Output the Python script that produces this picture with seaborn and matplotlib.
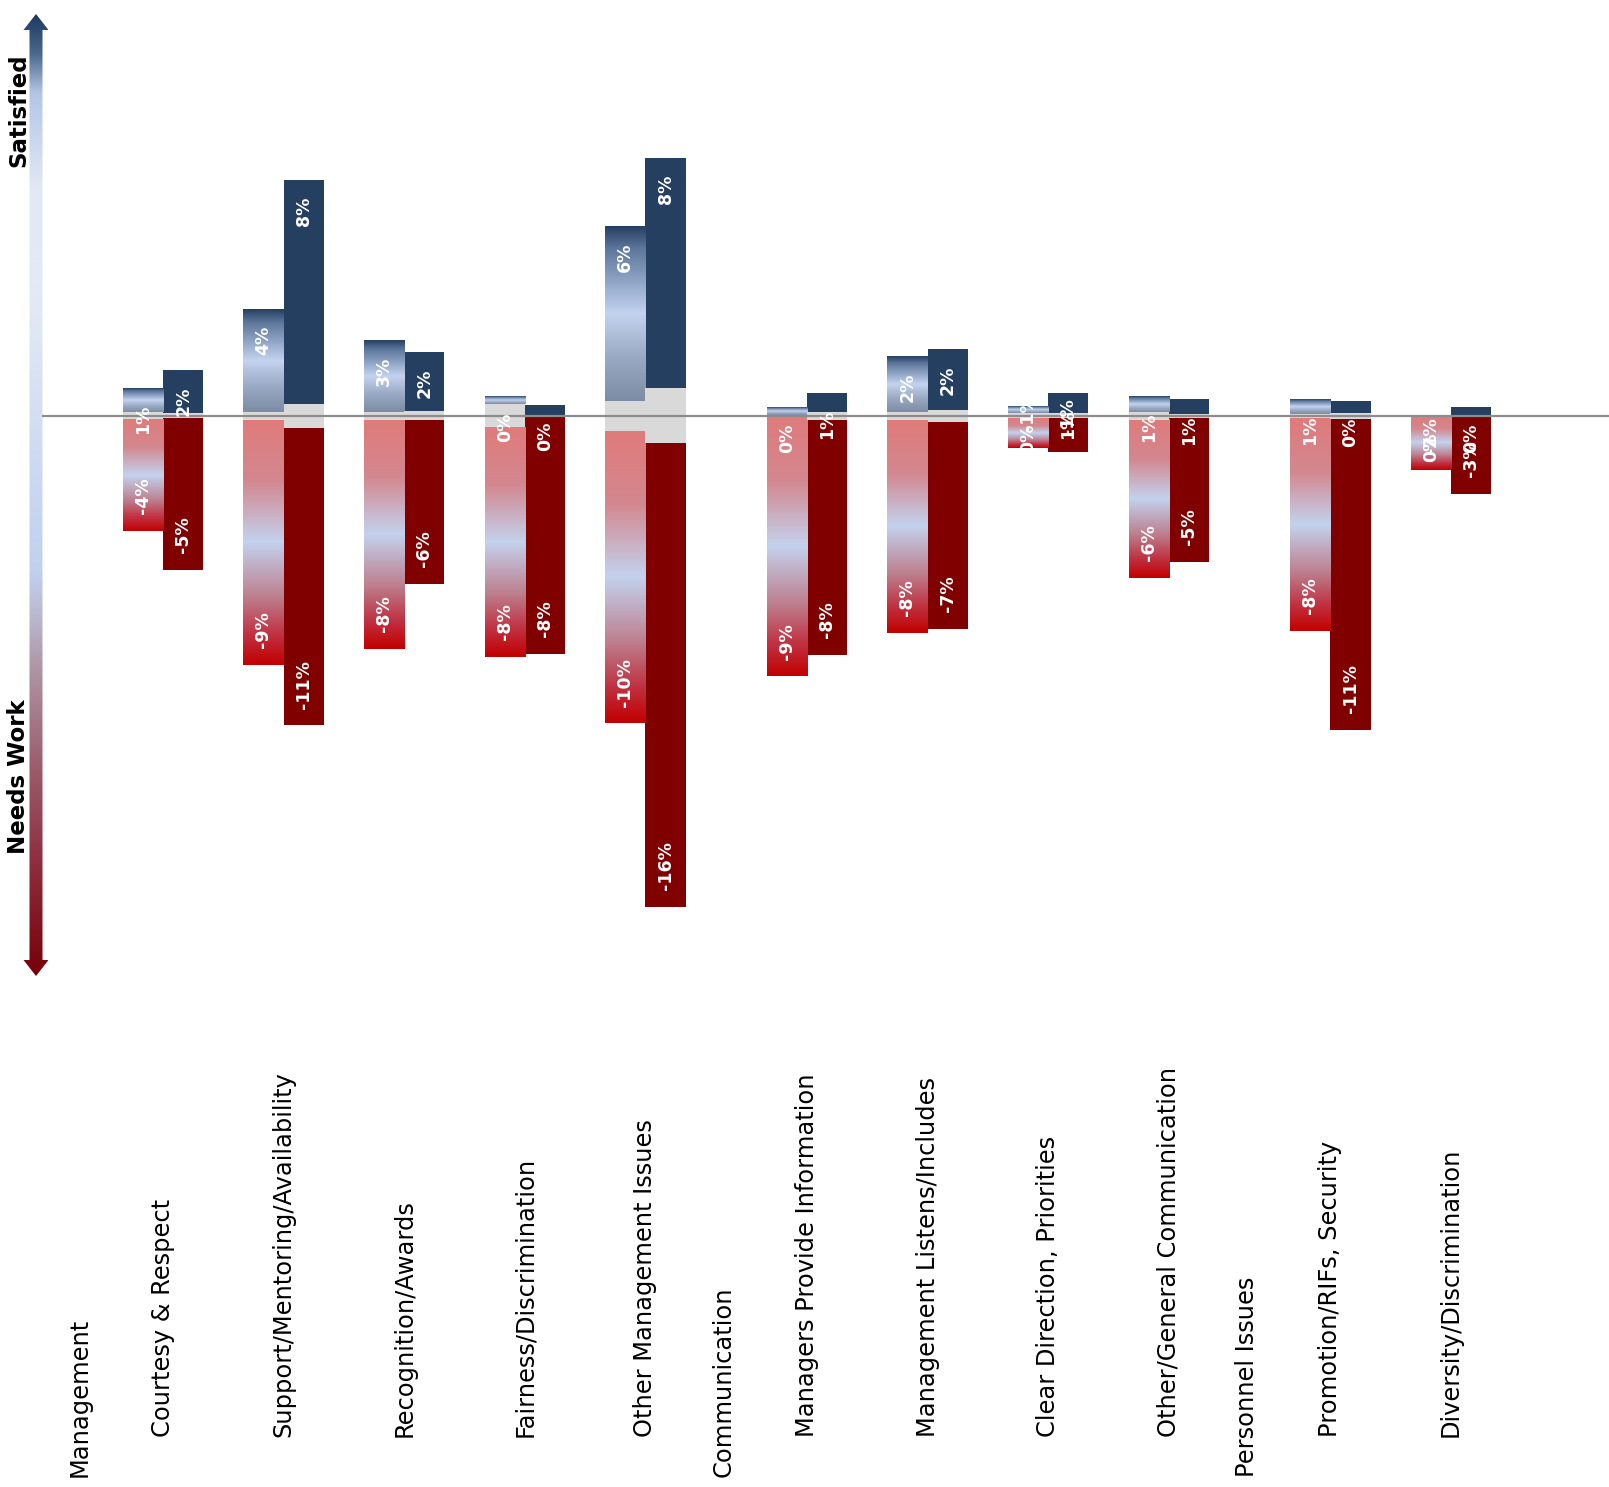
import numpy as np
import pandas as pd
import matplotlib
matplotlib.use("Agg")
import matplotlib.pyplot as plt
from matplotlib.colors import LinearSegmentedColormap
from matplotlib.patches import Polygon
from matplotlib.transforms import blended_transform_factory
import seaborn as sns

# ---- data -------------------------------------------------------------
# Axis order of topics; section headers carry no bars
topics = [
    "Management", "Courtesy & Respect", "Support/Mentoring/Availability",
    "Recognition/Awards", "Fairness/Discrimination", "Other Management Issues",
    "Communication", "Managers Provide Information", "Management Listens/Includes",
    "Clear Direction, Priorities", "Other/General Communication",
    "Personnel Issues", "Promotion/RIFs, Security", "Diversity/Discrimination",
]
section_headers = ["Management", "Communication", "Personnel Issues"]
series_names = ["earlier", "later"]

# Share of comments (%) for each topic with bars, earlier and later survey
satisfied_earlier = [0.85, 3.64, 2.54, 0.28, 6.20, 0.28, 1.97, 0.22, 0.56, 0.52, 0.00]
satisfied_later = [1.54, 7.94, 2.09, 0.35, 8.16, 0.66, 2.16, 0.71, 0.53, 0.41, 0.30]
neutral_earlier = [0.25, 0.27, 0.27, 0.83, 1.07, 0.05, 0.27, 0.17, 0.27, 0.14, 0.00]
neutral_later = [0.17, 0.85, 0.32, 0.05, 1.95, 0.29, 0.43, 0.17, 0.13, 0.20, 0.02]
needs_work_earlier = [3.96, 8.71, 8.13, 8.13, 10.37, 9.22, 7.57, 1.05, 5.62, 7.55, 1.94]
needs_work_later = [5.39, 10.55, 5.80, 8.41, 16.45, 8.33, 7.34, 1.20, 5.11, 11.03, 2.77]

# ---- colours ----------------------------------------------------------
NAVY = "#253f61"
MAROON = "#800000"
NEUTRAL_GRAY = "#d9d9d9"
ZERO_LINE = "#8c8c8c"
pos_grad = LinearSegmentedColormap.from_list(
    "pos", [(0.0, "#253f61"), (0.12, "#5a7499"), (0.5, "#c3d3f0"),
            (0.75, "#9aaac4"), (1.0, "#7c8ca4")])
neg_grad = LinearSegmentedColormap.from_list(
    "neg", [(0.0, "#e07b7b"), (0.25, "#d3878f"), (0.5, "#c3d2ee"),
            (0.72, "#bd8190"), (0.88, "#c03040"), (1.0, "#c20000")])
arrow_grad = LinearSegmentedColormap.from_list(
    "arrow", [(0.0, "#1f3a5f"), (0.04, "#4a6890"), (0.08, "#b4c5e4"),
              (0.18, "#e2e9f5"), (0.3, "#e4eaf5"), (0.42, "#d3def2"),
              (0.58, "#c2d0ee"), (0.63, "#b9b7cc"), (0.68, "#ae96a6"),
              (0.78, "#9c5f6e"), (0.88, "#8e3040"), (1.0, "#780008")])

# ---- positions: section headers take a narrower slot ------------------
positions = []
p = 0.0
for i, t in enumerate(topics):
    if i > 0:
        if t in section_headers:
            p += 0.65
        elif topics[i - 1] in section_headers:
            p += 0.69
        else:
            p += 1.0
    positions.append(round(p, 4))

items = [t for t in topics if t not in section_headers]
item_pos = [x for t, x in zip(topics, positions) if t not in section_headers]

rows = []
for name, sat, neu, nw in [
    ("earlier", satisfied_earlier, neutral_earlier, needs_work_earlier),
    ("later", satisfied_later, neutral_later, needs_work_later),
]:
    for t, x, a, b, c in zip(items, item_pos, sat, neu, nw):
        rows.append(dict(topic=t, x=x, series=name, satisfied=a, neutral=b, needs_work=c))
df = pd.DataFrame(rows)
df["half"] = df["neutral"] / 2
df["neg_half"] = -df["half"]
df["upper"] = df["half"] + df["satisfied"]
df["lower"] = -(df["half"] + df["needs_work"])

# ---- figure -----------------------------------------------------------
sns.set_style("white")
plt.rcParams["font.family"] = ["DejaVu Sans"]

W, H = 1609, 1487
fig = plt.figure(figsize=(W / 100, H / 100), dpi=100)
AX_LEFT, AX_BOTTOM_PX = 42, 1000
ax = fig.add_axes([AX_LEFT / W, 1 - AX_BOTTOM_PX / H, 1 - AX_LEFT / W, AX_BOTTOM_PX / H])

common = dict(data=df, x="x", hue="series", hue_order=series_names,
              native_scale=True, width=0.668, errorbar=None, legend=False,
              saturation=1, linewidth=0, ax=ax)


def layer(col, colors, z):
    n0 = len(ax.patches)
    sns.barplot(y=col, palette=colors, zorder=z, **common)
    return list(ax.patches[n0:])


def row_for(patch):
    cx = patch.get_x() + patch.get_width() / 2
    i = int(np.argmin(np.abs(np.array(item_pos) - cx)))
    name = "earlier" if cx < item_pos[i] else "later"
    return df[(df.topic == items[i]) & (df.series == name)].iloc[0]


upper_bars = layer("upper", [NAVY, NAVY], 2)
lower_bars = layer("lower", [MAROON, MAROON], 2)
layer("half", [NEUTRAL_GRAY, NEUTRAL_GRAY], 3)
layer("neg_half", [NEUTRAL_GRAY, NEUTRAL_GRAY], 3)

# gradient fill on the earlier-survey segments
grad = np.linspace(0, 1, 256)[:, None]
for bar in upper_bars:
    r = row_for(bar)
    if r.series != "earlier" or r.satisfied <= 0:
        continue
    x0 = bar.get_x()
    ax.imshow(pos_grad(grad), extent=(x0, x0 + bar.get_width(), r.half, r.upper),
              origin="upper", aspect="auto", interpolation="bilinear", zorder=2.5)
for bar in lower_bars:
    r = row_for(bar)
    if r.series != "earlier" or r.needs_work <= 0:
        continue
    x0 = bar.get_x()
    ax.imshow(neg_grad(grad), extent=(x0, x0 + bar.get_width(), r.lower, r.neg_half),
              origin="upper", aspect="auto", interpolation="bilinear", zorder=2.5)

ax.axhline(0, color=ZERO_LINE, lw=1.6, zorder=4)

# value labels at the inside end of each bar
label_kw = dict(rotation=90, ha="center", color="white", fontsize=12.5,
                fontweight="bold", textcoords="offset points", zorder=6)
for bar in upper_bars:
    r = row_for(bar)
    cx = bar.get_x() + bar.get_width() / 2
    top = max(bar.get_y(), bar.get_y() + bar.get_height())
    ax.annotate(f"{r.satisfied:.0f}%", xy=(cx, top), xytext=(0, -12), va="top", **label_kw)
for bar in lower_bars:
    r = row_for(bar)
    cx = bar.get_x() + bar.get_width() / 2
    bottom = min(bar.get_y(), bar.get_y() + bar.get_height())
    ax.annotate(f"{-r.needs_work:.0f}%", xy=(cx, bottom), xytext=(0, 12), va="bottom", **label_kw)

PX_PER_PCT = 28.2
ZERO_PX = 415.7
ax.set_ylim(-(AX_BOTTOM_PX - ZERO_PX) / PX_PER_PCT, ZERO_PX / PX_PER_PCT)
first = item_pos[0]
ax.set_xlim(first + (AX_LEFT - 163) / 120.6, first + (W - 163) / 120.6)
ax.set_axis_off()

# category labels, bottom aligned
trans = blended_transform_factory(ax.transData, fig.transFigure)
for t, x in zip(topics, positions):
    y = 1 - (1477 if t in section_headers else 1437) / H
    ax.text(x, y, t, transform=trans, rotation=90, ha="center", va="bottom",
            fontsize=17.4, color="black", clip_on=False)

# double-headed gradient arrow on the left
aax = fig.add_axes([0, 0, 1, 1], zorder=-1)
aax.set_xlim(0, W)
aax.set_ylim(H, 0)
aax.set_axis_off()
cx, top_tip, bot_tip, head = 36, 14, 976, 16
shaft_half, head_half = 6.5, 12.5
arrow = Polygon([
    (cx, top_tip), (cx + head_half, top_tip + head), (cx + shaft_half, top_tip + head),
    (cx + shaft_half, bot_tip - head), (cx + head_half, bot_tip - head), (cx, bot_tip),
    (cx - head_half, bot_tip - head), (cx - shaft_half, bot_tip - head),
    (cx - shaft_half, top_tip + head), (cx - head_half, top_tip + head),
], closed=True, facecolor="none", edgecolor="none")
aax.add_patch(arrow)
img = aax.imshow(arrow_grad(grad), extent=(cx - head_half, cx + head_half, bot_tip, top_tip),
                 origin="upper", aspect="auto", interpolation="bilinear")
img.set_clip_path(arrow)
aax.set_xlim(0, W)
aax.set_ylim(H, 0)

fig.text(19 / W, 1 - 110 / H, "Satisfied", rotation=90, ha="center", va="center",
         fontsize=16.5, fontweight="bold", color="black")
fig.text(19 / W, 1 - 777 / H, "Needs Work", rotation=90, ha="center", va="center",
         fontsize=16.5, fontweight="bold", color="black")

fig.savefig("out.png", dpi=100, facecolor="white")
